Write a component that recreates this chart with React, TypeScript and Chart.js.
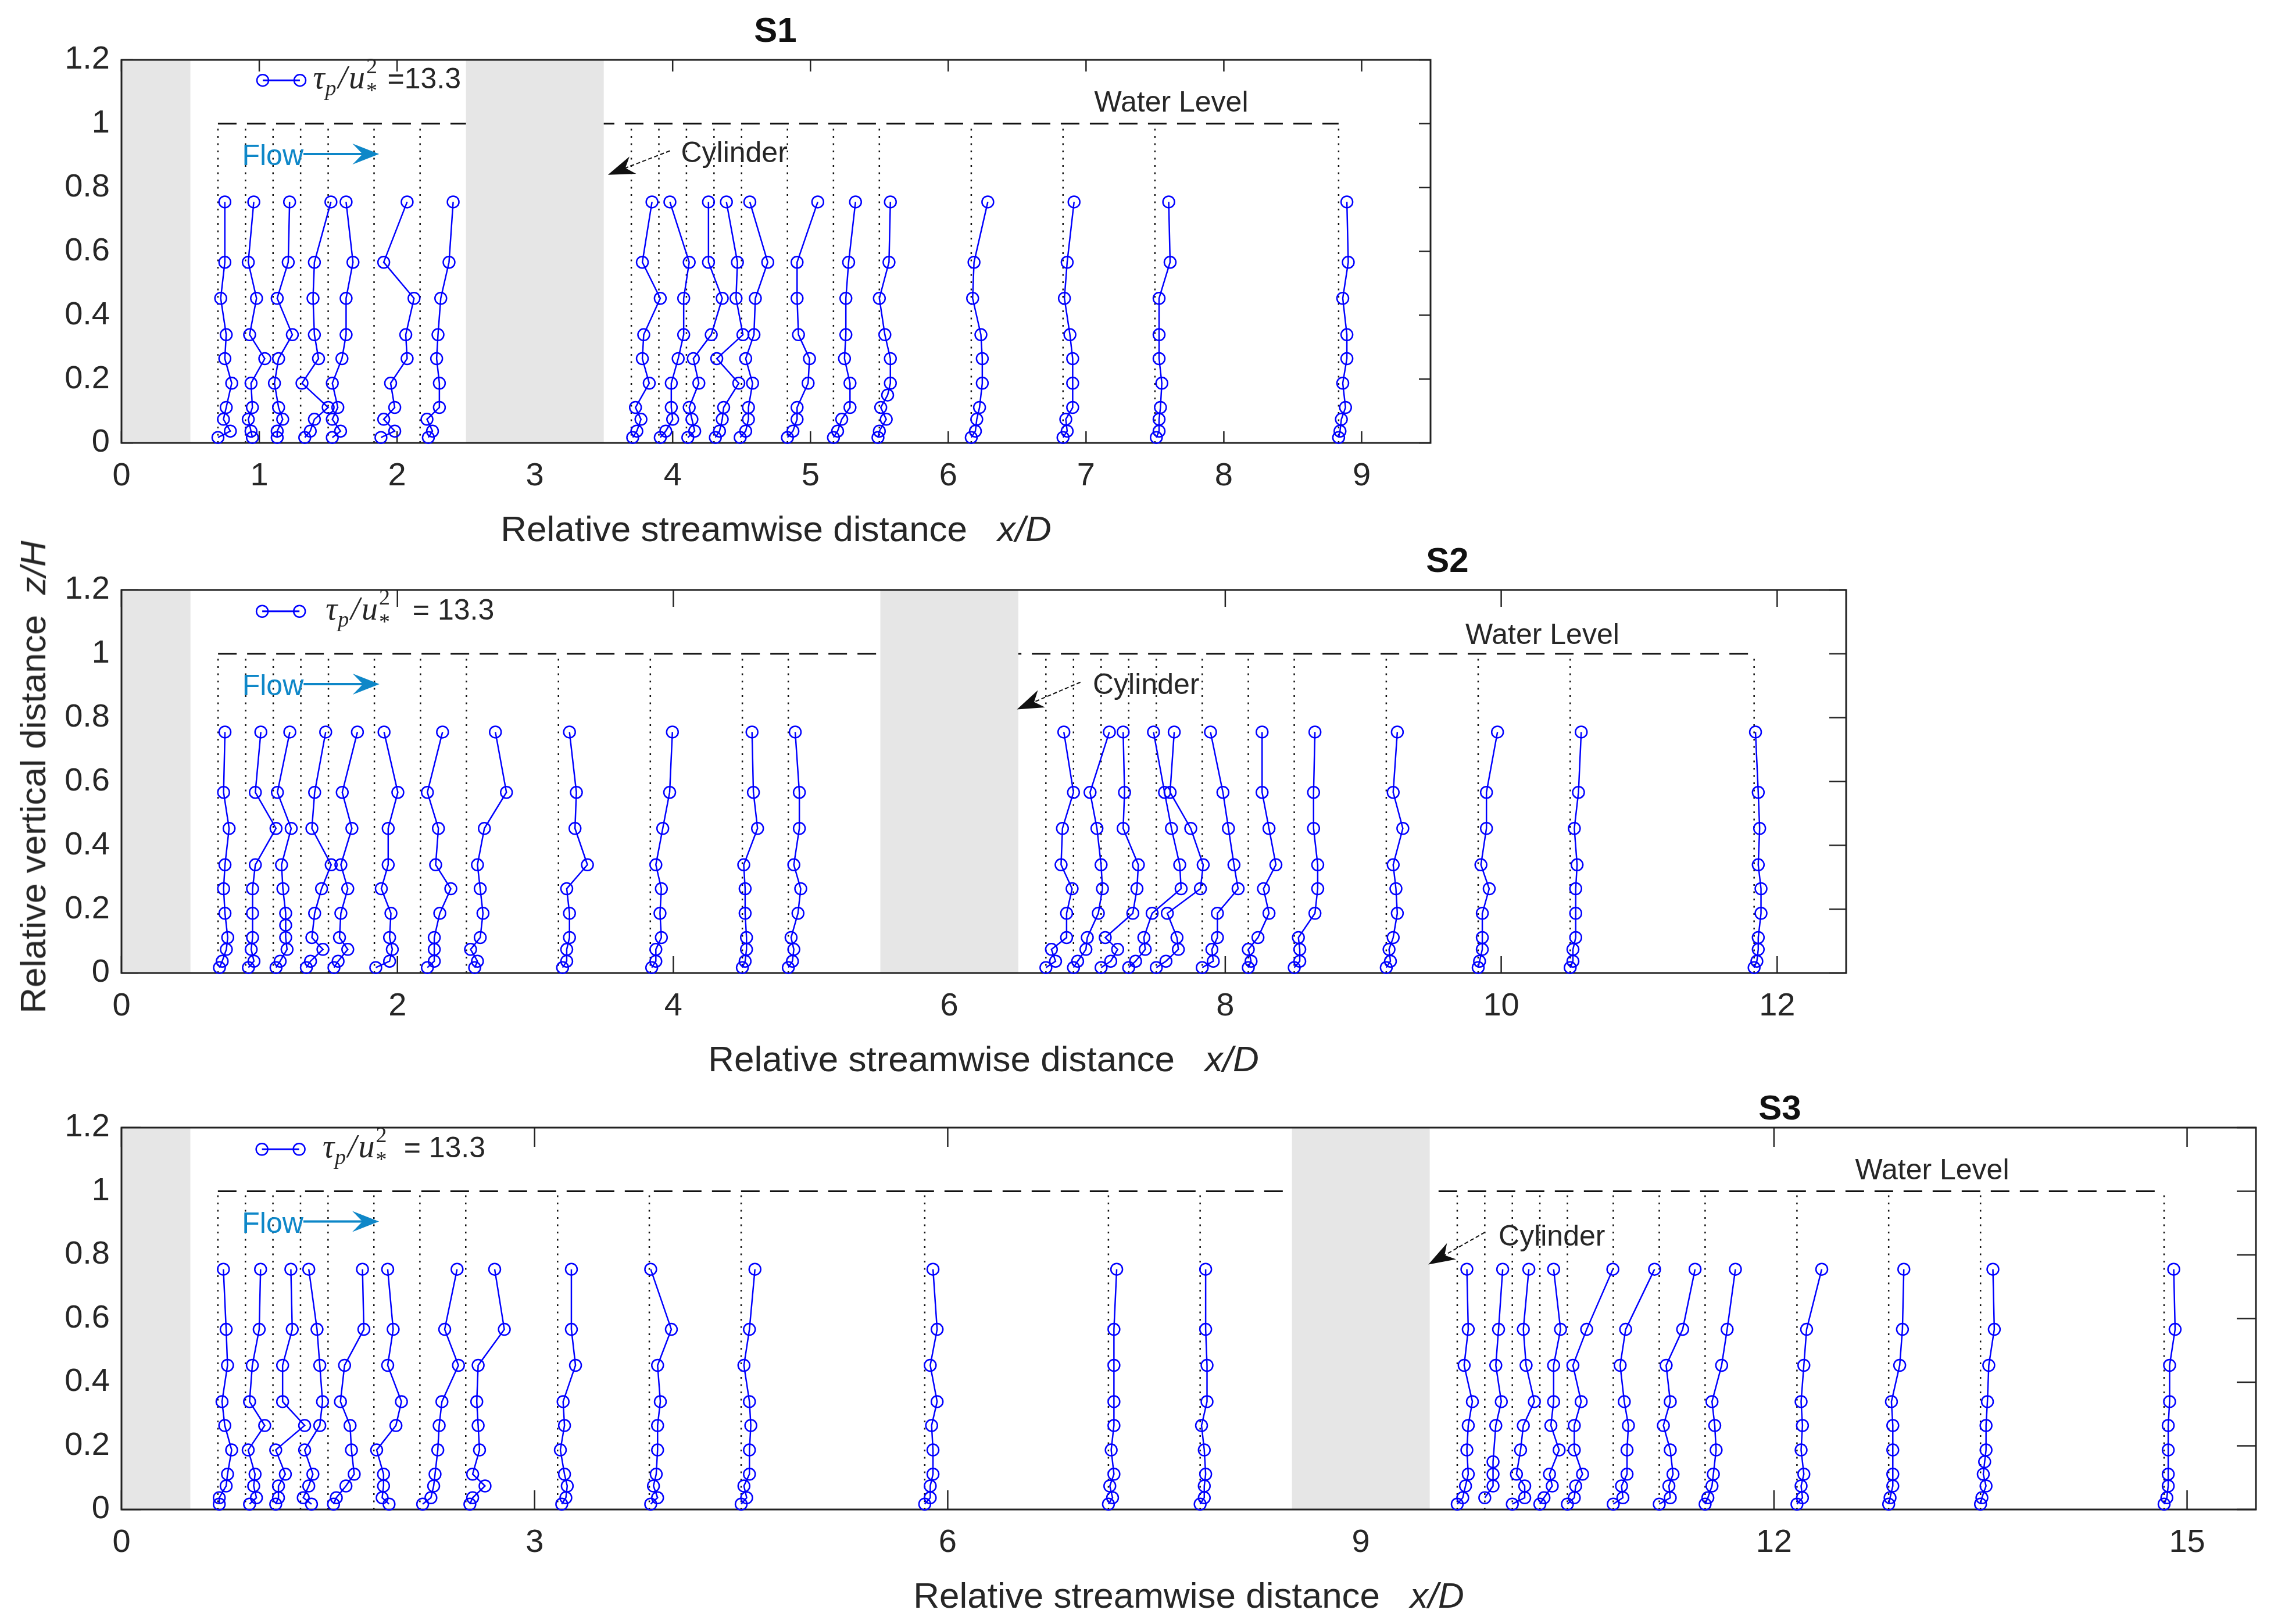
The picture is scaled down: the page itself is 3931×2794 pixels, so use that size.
import React, { useEffect, useRef } from 'react';
import Chart from 'chart.js/auto';

const FONT = "'Liberation Sans', Arial, Helvetica, sans-serif";
const SERIF = "'Liberation Serif', 'DejaVu Serif', serif";
const TEXT = '#262626';
const PROFILE_BLUE = '#0000ff';
const FLOW_BLUE = '#0e87c8';
const CYL_GRAY = '#e6e6e6';

// vertical measuring levels z/H (bottom -> top)
const zLevels = [0.017, 0.037, 0.074, 0.111, 0.187, 0.264, 0.339, 0.453, 0.566, 0.755];
const midLevel = 0.15;
const yTicks = [0, 0.2, 0.4, 0.6, 0.8, 1, 1.2];

// S1 : cylinders at x/D = 0 and 3
const s1Cylinders = [0, 3];
const s1XTicks = [0, 1, 2, 3, 4, 5, 6, 7, 8, 9];
const s1Stations = [0.7, 0.9, 1.1, 1.3, 1.5, 1.833, 2.167, 3.7, 3.9, 4.1, 4.3, 4.5, 4.833, 5.167, 5.5, 6.167, 6.833, 7.5, 8.833];
// profile offsets from each station (x/D units), one value per zLevel
const s1Offsets: (number | null)[][] = [
  [0.00, 0.09, 0.04, 0.06, 0.10, 0.05, 0.06, 0.02, 0.05, 0.05],
  [0.05, 0.04, 0.02, 0.05, 0.04, 0.14, 0.03, 0.08, 0.02, 0.06],
  [0.03, 0.03, 0.07, 0.04, 0.01, 0.04, 0.14, 0.03, 0.11, 0.12],
  [0.03, 0.07, 0.10, 0.20, 0.01, 0.13, 0.10, 0.09, 0.10, 0.22],
  [0.03, 0.09, 0.03, 0.07, 0.03, 0.10, 0.13, 0.13, 0.18, 0.13],
  [0.05, 0.15, 0.07, 0.15, 0.12, 0.24, 0.23, 0.29, 0.07, 0.24],
  [0.06, 0.09, 0.05, 0.14, 0.14, 0.12, 0.13, 0.15, 0.21, 0.24],
  [0.01, 0.04, 0.07, 0.03, 0.13, 0.08, 0.09, 0.21, 0.08, 0.15],
  [0.01, 0.05, 0.10, 0.09, 0.09, 0.14, 0.18, 0.18, 0.22, 0.08],
  [0.01, 0.06, 0.04, 0.02, 0.09, 0.05, 0.18, 0.26, 0.16, 0.16],
  [0.01, 0.04, 0.06, 0.07, 0.18, 0.02, 0.21, 0.16, 0.17, 0.09],
  [-0.01, 0.03, 0.05, 0.05, 0.08, 0.03, 0.09, 0.10, 0.19, 0.06],
  [0.00, 0.04, 0.07, 0.07, 0.15, 0.16, 0.08, 0.07, 0.07, 0.22],
  [0.00, 0.03, 0.06, 0.12, 0.12, 0.08, 0.09, 0.09, 0.11, 0.16],
  [-0.01, 0.00, 0.05, 0.01, 0.08, 0.08, 0.04, 0.00, 0.07, 0.08],
  [0.00, 0.03, 0.04, 0.06, 0.08, 0.08, 0.07, 0.01, 0.02, 0.12],
  [0.00, 0.03, 0.02, 0.07, 0.07, 0.07, 0.05, 0.01, 0.03, 0.08],
  [0.01, 0.03, 0.03, 0.04, 0.05, 0.03, 0.03, 0.03, 0.11, 0.10],
  [0.00, 0.01, 0.02, 0.05, 0.03, 0.06, 0.06, 0.03, 0.07, 0.06],
];
// extra points at midLevel: [station index, offset]
const s1Mid: [number, number][] = [[14, 0.06]];

// S2 : cylinders at x/D = 0 and 6
const s2Cylinders = [0, 6];
const s2XTicks = [0, 2, 4, 6, 8, 10, 12];
const s2Stations = [0.7, 0.9, 1.1, 1.3, 1.5, 1.833, 2.167, 2.5, 3.167, 3.833, 4.5, 4.833, 6.7, 6.9, 7.1, 7.3, 7.5, 7.833, 8.167, 8.5, 9.167, 9.833, 10.5, 11.833];
const s2Offsets: (number | null)[][] = [
  [0.01, 0.03, 0.06, 0.07, 0.05, 0.04, 0.05, 0.08, 0.04, 0.05],
  [0.02, 0.06, 0.04, 0.05, 0.05, 0.05, 0.07, 0.22, 0.07, 0.11],
  [0.02, 0.05, 0.10, 0.09, 0.09, 0.07, 0.06, 0.13, 0.03, 0.12],
  [0.04, 0.07, 0.16, 0.08, 0.10, 0.15, 0.22, 0.08, 0.10, 0.18],
  [0.04, 0.07, 0.14, 0.08, 0.09, 0.14, 0.09, 0.17, 0.10, 0.21],
  [0.01, 0.11, 0.13, 0.11, 0.12, 0.05, 0.10, 0.10, 0.17, 0.07],
  [0.05, 0.10, 0.10, 0.10, 0.14, 0.22, 0.11, 0.13, 0.05, 0.16],
  [0.06, 0.08, 0.03, 0.10, 0.12, 0.10, 0.08, 0.13, 0.29, 0.21],
  [0.03, 0.06, 0.06, 0.08, 0.08, 0.06, 0.21, 0.12, 0.13, 0.08],
  [0.01, 0.04, 0.04, 0.08, 0.07, 0.08, 0.04, 0.09, 0.14, 0.16],
  [0.00, 0.02, 0.03, 0.03, 0.02, 0.02, 0.01, 0.11, 0.08, 0.07],
  [0.00, 0.03, 0.04, 0.02, 0.07, 0.09, 0.04, 0.08, 0.08, 0.05],
  [0.00, 0.07, 0.04, 0.15, 0.15, 0.19, 0.11, 0.12, 0.20, 0.13],
  [0.00, 0.03, 0.09, 0.10, 0.18, 0.21, 0.20, 0.17, 0.12, 0.26],
  [0.00, 0.07, 0.12, 0.03, 0.23, 0.26, 0.27, 0.16, 0.17, 0.16],
  [0.00, 0.05, 0.12, 0.11, 0.17, 0.38, 0.37, 0.31, 0.26, 0.18],
  [0.00, 0.07, 0.16, 0.15, 0.08, 0.32, 0.34, 0.25, 0.10, 0.13],
  [0.00, 0.08, 0.07, 0.11, 0.11, 0.26, 0.23, 0.19, 0.15, 0.06],
  [0.00, 0.02, 0.00, 0.07, 0.15, 0.11, 0.20, 0.15, 0.10, 0.10],
  [0.00, 0.04, 0.04, 0.03, 0.15, 0.17, 0.17, 0.14, 0.14, 0.15],
  [0.00, 0.03, 0.02, 0.05, 0.08, 0.07, 0.05, 0.12, 0.05, 0.08],
  [0.00, 0.01, 0.03, 0.03, 0.03, 0.08, 0.02, 0.06, 0.06, 0.14],
  [0.00, 0.02, 0.02, 0.04, 0.04, 0.04, 0.05, 0.03, 0.06, 0.08],
  [0.00, 0.02, 0.03, 0.03, 0.05, 0.05, 0.03, 0.04, 0.03, 0.01],
];
const s2Mid: [number, number][] = [[2, 0.09]];

// S3 : cylinders at x/D = 0 and 9
const s3Cylinders = [0, 9];
const s3XTicks = [0, 3, 6, 9, 12, 15];
const s3Stations = [0.7, 0.9, 1.1, 1.3, 1.5, 1.833, 2.167, 2.5, 3.167, 3.833, 4.5, 5.833, 7.167, 7.833, 9.7, 9.9, 10.1, 10.3, 10.5, 10.833, 11.167, 11.5, 12.167, 12.833, 13.5, 14.833];
const s3Offsets: (number | null)[][] = [
  [0.01, 0.01, 0.06, 0.07, 0.10, 0.05, 0.03, 0.07, 0.06, 0.04],
  [0.03, 0.08, 0.06, 0.07, 0.02, 0.14, 0.03, 0.05, 0.10, 0.11],
  [0.02, 0.04, 0.04, 0.09, 0.02, 0.23, 0.07, 0.07, 0.14, 0.13],
  [0.08, 0.02, 0.06, 0.09, 0.03, 0.14, 0.16, 0.14, 0.12, 0.06],
  [0.04, 0.06, 0.13, 0.19, 0.17, 0.16, 0.09, 0.12, 0.26, 0.25],
  [0.11, 0.06, 0.07, 0.07, 0.02, 0.16, 0.20, 0.10, 0.14, 0.10],
  [0.02, 0.08, 0.10, 0.11, 0.13, 0.14, 0.16, 0.28, 0.18, 0.27],
  [0.03, 0.05, 0.14, 0.05, 0.10, 0.09, 0.08, 0.09, 0.28, 0.21],
  [0.03, 0.06, 0.07, 0.05, 0.02, 0.05, 0.04, 0.13, 0.10, 0.10],
  [0.01, 0.06, 0.03, 0.05, 0.06, 0.06, 0.08, 0.06, 0.16, 0.01],
  [0.00, 0.04, 0.02, 0.06, 0.06, 0.07, 0.06, 0.02, 0.06, 0.10],
  [0.00, 0.04, 0.04, 0.06, 0.06, 0.05, 0.09, 0.04, 0.09, 0.06],
  [0.00, 0.03, 0.01, 0.04, 0.02, 0.04, 0.04, 0.04, 0.04, 0.06],
  [0.00, 0.03, 0.03, 0.04, 0.03, 0.01, 0.05, 0.05, 0.04, 0.04],
  [0.00, 0.04, 0.06, 0.08, 0.07, 0.08, 0.11, 0.05, 0.08, 0.07],
  [null, 0.00, 0.06, 0.06, null, 0.08, 0.12, 0.08, 0.10, 0.13],
  [0.00, 0.09, 0.09, 0.03, 0.06, 0.08, 0.16, 0.10, 0.08, 0.12],
  [0.00, 0.03, 0.09, 0.07, 0.14, 0.08, 0.10, 0.10, 0.15, 0.10],
  [0.00, 0.05, 0.06, 0.11, 0.05, 0.05, 0.10, 0.04, 0.14, 0.33],
  [0.00, 0.07, 0.06, 0.10, 0.10, 0.11, 0.08, 0.05, 0.09, 0.30],
  [0.00, 0.08, 0.07, 0.10, 0.08, 0.03, 0.08, 0.05, 0.17, 0.26],
  [0.00, 0.02, 0.05, 0.06, 0.08, 0.07, 0.05, 0.12, 0.16, 0.22],
  [0.00, 0.04, 0.03, 0.05, 0.03, 0.04, 0.03, 0.05, 0.07, 0.18],
  [0.00, 0.01, 0.03, 0.03, 0.03, 0.03, 0.02, 0.08, 0.10, 0.11],
  [0.00, 0.01, 0.04, 0.02, 0.04, 0.04, 0.05, 0.06, 0.10, 0.09],
  [0.00, 0.02, 0.03, 0.03, 0.03, 0.03, 0.04, 0.04, 0.08, 0.07],
];
const s3Mid: [number, number][] = [[15, 0.06], [24, 0.03]];

interface PanelSpec {
  name: string;
  stations: number[];
  offsets: (number | null)[][];
  mids: [number, number][];
  cylinders: number[];
  xTicks: number[];
  xMax: number;
  top: number;
  width: number;
  height: number;
  pad: { top: number; right: number; bottom: number; left: number };
  tickLen: number;
  titleX: number;
  titleY: number;
  xTitleX: number;
  xTitleY: number;
  legend: { x0: number; x1: number; y: number; tx: number; ex: number; eq: string };
  cyl: { tx: number; ty: number; tail: [number, number]; tip: [number, number] };
  water: { x: number; y: number };
}

const panels: PanelSpec[] = [
  {
    name: 'S1', stations: s1Stations, offsets: s1Offsets, mids: s1Mid, cylinders: s1Cylinders,
    xTicks: s1XTicks, xMax: 9.5, top: 0, width: 2520, height: 880,
    pad: { top: 103, right: 59, bottom: 18, left: 0 }, tickLen: 20,
    titleX: 1334, titleY: 52, xTitleX: 1335, xTitleY: 910,
    legend: { x0: 1.025, x1: 1.295, y: 1.136, tx: 1.39, ex: 1.93, eq: '=13.3' },
    cyl: { tx: 4.06, ty: 0.905, tail: [3.98, 0.915], tip: [3.53, 0.84] },
    water: { x: 7.06, y: 1.063 },
  },
  {
    name: 'S2', stations: s2Stations, offsets: s2Offsets, mids: s2Mid, cylinders: s2Cylinders,
    xTicks: s2XTicks, xMax: 12.5, top: 930, width: 3240, height: 860,
    pad: { top: 85, right: 64, bottom: 16, left: 0 }, tickLen: 29,
    titleX: 2490, titleY: 964, xTitleX: 1692, xTitleY: 1822,
    legend: { x0: 1.02, x1: 1.29, y: 1.133, tx: 1.48, ex: 2.11, eq: '= 13.3' },
    cyl: { tx: 7.04, ty: 0.9, tail: [6.95, 0.911], tip: [6.49, 0.826] },
    water: { x: 9.74, y: 1.056 },
  },
  {
    name: 'S3', stations: s3Stations, offsets: s3Offsets, mids: s3Mid, cylinders: s3Cylinders,
    xTicks: s3XTicks, xMax: 15.5, top: 1860, width: 3931, height: 860,
    pad: { top: 80, right: 50, bottom: 23, left: 0 }, tickLen: 33,
    titleX: 3062, titleY: 1906, xTitleX: 2045, xTitleY: 2745,
    legend: { x0: 1.02, x1: 1.29, y: 1.132, tx: 1.46, ex: 2.05, eq: '= 13.3' },
    cyl: { tx: 10.0, ty: 0.854, tail: [9.9, 0.871], tip: [9.49, 0.77] },
    water: { x: 12.59, y: 1.063 },
  },
];

function arrowHead(ctx: CanvasRenderingContext2D, x0: number, y0: number, x1: number, y1: number, len: number, half: number, notch: number) {
  const ang = Math.atan2(y1 - y0, x1 - x0);
  ctx.save();
  ctx.translate(x1, y1);
  ctx.rotate(ang);
  ctx.beginPath();
  ctx.moveTo(0, 0);
  ctx.lineTo(-len, -half);
  ctx.lineTo(-len * (1 - notch), 0);
  ctx.lineTo(-len, half);
  ctx.closePath();
  ctx.fill();
  ctx.restore();
}

const overlay = (p: PanelSpec) => ({
  id: 'overlay',
  beforeDatasetsDraw(chart: any) {
    const { ctx, chartArea: a, scales } = chart;
    const xs = scales.x;
    const ys = scales.y;
    const px = (v: number) => xs.getPixelForValue(v);
    const py = (v: number) => ys.getPixelForValue(v);
    ctx.save();

    // water level
    ctx.strokeStyle = '#111';
    ctx.lineWidth = 3;
    ctx.setLineDash([32, 18]);
    ctx.beginPath();
    ctx.moveTo(px(p.stations[0]), py(1));
    ctx.lineTo(px(p.stations[p.stations.length - 1]), py(1));
    ctx.stroke();

    // station lines
    ctx.lineWidth = 2.5;
    ctx.setLineDash([3, 9.5]);
    p.stations.forEach((s) => {
      ctx.beginPath();
      ctx.moveTo(px(s), py(0));
      ctx.lineTo(px(s), py(1));
      ctx.stroke();
    });

    // inward ticks
    ctx.setLineDash([]);
    ctx.strokeStyle = TEXT;
    ctx.lineWidth = 2.5;
    const tl = p.tickLen;
    p.xTicks.forEach((t) => {
      const x = px(t);
      ctx.beginPath();
      ctx.moveTo(x, a.bottom);
      ctx.lineTo(x, a.bottom - tl);
      ctx.moveTo(x, a.top);
      ctx.lineTo(x, a.top + tl);
      ctx.stroke();
    });
    yTicks.forEach((t) => {
      const y = py(t);
      ctx.beginPath();
      ctx.moveTo(a.left, y);
      ctx.lineTo(a.left + tl, y);
      ctx.moveTo(a.right, y);
      ctx.lineTo(a.right - tl, y);
      ctx.stroke();
    });

    // cylinders
    ctx.fillStyle = CYL_GRAY;
    p.cylinders.forEach((c) => {
      const l = px(Math.max(c - 0.5, 0));
      const r = px(Math.min(c + 0.5, p.xMax));
      ctx.fillRect(l, a.top, r - l, a.bottom - a.top);
    });

    // box
    ctx.strokeStyle = '#222';
    ctx.lineWidth = 3;
    ctx.strokeRect(a.left, a.top, a.right - a.left, a.bottom - a.top);
    ctx.restore();
  },
  afterDatasetsDraw(chart: any) {
    const { ctx, scales } = chart;
    const px = (v: number) => scales.x.getPixelForValue(v);
    const py = (v: number) => scales.y.getPixelForValue(v);
    ctx.save();

    // legend
    const lg = p.legend;
    const ly = py(lg.y);
    ctx.strokeStyle = PROFILE_BLUE;
    ctx.lineWidth = 3;
    ctx.beginPath();
    ctx.moveTo(px(lg.x0), ly);
    ctx.lineTo(px(lg.x1), ly);
    ctx.stroke();
    ctx.lineWidth = 2.5;
    [lg.x0, lg.x1].forEach((v) => {
      ctx.beginPath();
      ctx.arc(px(v), ly, 10, 0, Math.PI * 2);
      ctx.stroke();
    });
    ctx.fillStyle = TEXT;
    ctx.textBaseline = 'alphabetic';
    ctx.textAlign = 'left';
    const base = ly + 14;
    let cx = px(lg.tx);
    ctx.font = `italic 56px ${SERIF}`;
    ctx.fillText('τ', cx, base);
    cx += ctx.measureText('τ').width + 1;
    ctx.font = `italic 38px ${SERIF}`;
    ctx.fillText('p', cx, base + 12);
    cx += ctx.measureText('p').width + 3;
    ctx.font = `italic 56px ${SERIF}`;
    ctx.fillText('/', cx, base);
    cx += ctx.measureText('/').width + 3;
    ctx.fillText('u', cx, base);
    cx += ctx.measureText('u').width + 2;
    ctx.font = `38px ${SERIF}`;
    ctx.fillText('2', cx, base - 26);
    ctx.fillText('*', cx, base + 16);
    ctx.font = `50px ${FONT}`;
    ctx.textBaseline = 'middle';
    ctx.fillText(lg.eq, px(lg.ex), ly);

    // flow arrow
    ctx.fillStyle = FLOW_BLUE;
    ctx.strokeStyle = FLOW_BLUE;
    ctx.font = `50px ${FONT}`;
    ctx.fillText('Flow', px(0.875), py(0.895));
    const fx0 = px(0.875) + ctx.measureText('Flow').width;
    const fx1 = px(1.87);
    const fy = py(0.905);
    ctx.lineWidth = 4;
    ctx.beginPath();
    ctx.moveTo(fx0, fy);
    ctx.lineTo(fx1 - 25, fy);
    ctx.stroke();
    arrowHead(ctx, fx0, fy, fx1, fy, 46, 18, 0.38);

    // cylinder arrow
    const c = p.cyl;
    ctx.fillStyle = '#111';
    ctx.strokeStyle = '#111';
    const tx0 = px(c.tail[0]);
    const ty0 = py(c.tail[1]);
    const tx1 = px(c.tip[0]);
    const ty1 = py(c.tip[1]);
    ctx.lineWidth = 2;
    ctx.setLineDash([7, 4]);
    ctx.beginPath();
    ctx.moveTo(tx0, ty0);
    ctx.lineTo(tx1 + (tx0 - tx1) * 0.25, ty1 + (ty0 - ty1) * 0.25);
    ctx.stroke();
    ctx.setLineDash([]);
    arrowHead(ctx, tx0, ty0, tx1, ty1, 46, 16, 0.3);
    ctx.fillStyle = TEXT;
    ctx.fillText('Cylinder', px(c.tx), py(c.ty));

    // water level label
    ctx.fillText('Water Level', px(p.water.x), py(p.water.y));
    ctx.restore();
  },
});

function Panel({ p }: { p: PanelSpec }) {
  const canvasRef = useRef<HTMLCanvasElement | null>(null);

  useEffect(() => {
    const ctx = canvasRef.current?.getContext('2d');
    if (!ctx) return;

    const datasets = p.stations.map((st, i) => {
      const pts: { x: number; y: number }[] = [];
      zLevels.forEach((z, k) => {
        const d = p.offsets[i][k];
        if (d !== null) pts.push({ x: st + d, y: z });
      });
      p.mids.filter((m) => m[0] === i).forEach((m) => pts.push({ x: st + m[1], y: midLevel }));
      pts.sort((a, b) => a.y - b.y);
      return {
        label: `x/D = ${st}`,
        data: pts,
        showLine: true,
        borderColor: PROFILE_BLUE,
        borderWidth: 2.5,
        pointRadius: 10,
        pointBorderWidth: 2.5,
        pointBackgroundColor: 'rgba(0,0,0,0)',
        pointBorderColor: PROFILE_BLUE,
        tension: 0,
        clip: false as any,
      };
    });

    const tickFont = { family: FONT, size: 56 };
    const chart = new Chart(ctx, {
      type: 'scatter',
      data: { datasets },
      options: {
        animation: false,
        responsive: false,
        maintainAspectRatio: false,
        devicePixelRatio: 1,
        events: [],
        layout: { padding: p.pad },
        plugins: { legend: { display: false }, tooltip: { enabled: false }, title: { display: false } },
        scales: {
          x: {
            type: 'linear',
            min: 0,
            max: p.xMax,
            afterBuildTicks: (s: any) => { s.ticks = p.xTicks.map((v) => ({ value: v })); },
            afterFit: (s: any) => { s.height = 100; },
            grid: { display: false, drawTicks: false },
            border: { display: false },
            ticks: { font: tickFont, color: TEXT, padding: 24, maxRotation: 0, autoSkip: false, callback: (v: any) => String(v) },
          },
          y: {
            type: 'linear',
            min: 0,
            max: 1.2,
            afterBuildTicks: (s: any) => { s.ticks = yTicks.map((v) => ({ value: v })); },
            afterFit: (s: any) => { s.width = 209; },
            grid: { display: false, drawTicks: false },
            border: { display: false },
            ticks: { font: tickFont, color: TEXT, padding: 20, callback: (v: any) => String(Math.round(Number(v) * 10) / 10) },
          },
        },
      },
      plugins: [overlay(p)],
    });

    return () => {
      chart.destroy();
    };
  }, [p]);

  return (
    <canvas
      ref={canvasRef}
      width={p.width}
      height={p.height}
      style={{ position: 'absolute', left: 0, top: p.top, width: p.width, height: p.height }}
    />
  );
}

const centered: React.CSSProperties = {
  position: 'absolute',
  transform: 'translate(-50%, -50%)',
  whiteSpace: 'pre',
  color: TEXT,
  fontFamily: FONT,
  lineHeight: 1,
};

export default function App() {
  return (
    <div style={{ position: 'absolute', left: 0, top: 0, width: 3931, height: 2794, background: '#fff', overflow: 'hidden' }}>
      {panels.map((p) => (
        <React.Fragment key={p.name}>
          <Panel p={p} />
          <div style={{ ...centered, left: p.titleX, top: p.titleY, fontSize: 60, fontWeight: 'bold', color: '#111' }}>{p.name}</div>
          <div style={{ ...centered, left: p.xTitleX, top: p.xTitleY, fontSize: 62 }}>
            {'Relative streamwise distance   '}<i>x/D</i>
          </div>
        </React.Fragment>
      ))}
      <div style={{ ...centered, left: 57, top: 1337, fontSize: 62, transform: 'translate(-50%, -50%) rotate(-90deg)' }}>
        {'Relative vertical distance  '}<i>z/H</i>
      </div>
    </div>
  );
}
